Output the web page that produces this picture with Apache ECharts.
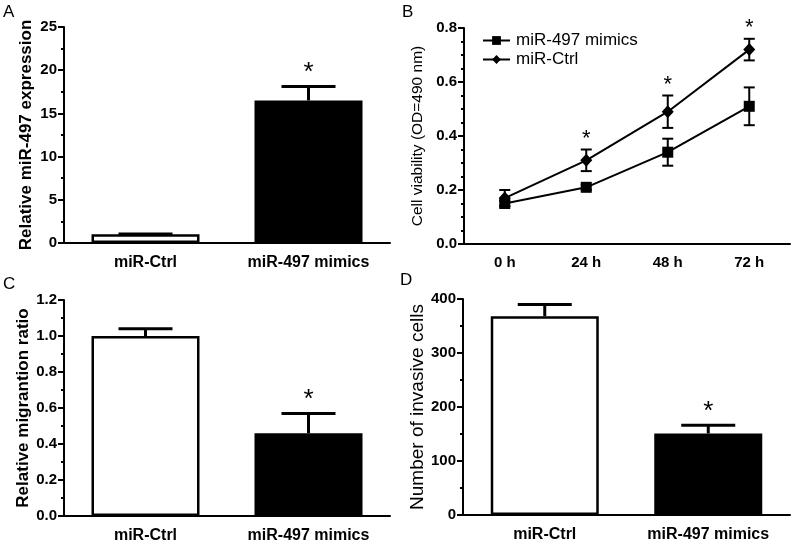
<!DOCTYPE html>
<html>
<head>
<meta charset="utf-8">
<script src="https://cdn.jsdelivr.net/npm/echarts@6/dist/echarts.min.js"></script>
<style>
html,body{margin:0;padding:0;background:#fff;}
#c{width:800px;height:552px;}
</style>
</head>
<body>
<div id="c"></div>
<script>
// ---- data ----
const groupCats = ['miR-Ctrl', 'miR-497 mimics'];
const exprMean = [1.0, 16.5];
const exprErr = [0.05, 1.6];
const exprStar = [0, 1];

const timeCats = ['0 h', '24 h', '48 h', '72 h'];
const viabMimics = [0.15, 0.21, 0.34, 0.51];
const viabMimicsErr = [0.01, 0.01, 0.05, 0.07];
const viabCtrl = [0.17, 0.31, 0.49, 0.72];
const viabCtrlErr = [0.03, 0.04, 0.06, 0.04];
const viabStar = [0, 1, 1, 1];

const migMean = [1.0, 0.46];
const migErr = [0.04, 0.11];
const migStar = [0, 1];

const invMean = [368, 151];
const invErr = [22, 15];
const invStar = [0, 1];

const barFill = ['#ffffff', '#000000'];
const legendNames = ['miR-497 mimics', 'miR-Ctrl'];

// ---- helpers ----
const FF = "'Liberation Sans', Arial, sans-serif";
function errData(mean, err, star) {
  return mean.map((m, i) => [i, m, err[i], star ? star[i] : 0]);
}
function errRender(both, capW, lw, starSize, starGap) {
  return function (params, api) {
    const i = api.value(0), v = api.value(1), e = api.value(2), s = api.value(3);
    const pTop = api.coord([i, v + e]);
    const pMid = api.coord([i, v]);
    const pBot = api.coord([i, v - e]);
    const x = pTop[0];
    const st = { stroke: '#000', lineWidth: lw };
    const ch = [
      { type: 'line', shape: { x1: x, y1: pTop[1], x2: x, y2: both ? pBot[1] : pMid[1] }, style: st },
      { type: 'line', shape: { x1: x - capW / 2, y1: pTop[1], x2: x + capW / 2, y2: pTop[1] }, style: st }
    ];
    if (both) ch.push({ type: 'line', shape: { x1: x - capW / 2, y1: pBot[1], x2: x + capW / 2, y2: pBot[1] }, style: st });
    if (s) ch.push({ type: 'text', x: x, y: pTop[1] - starGap,
      style: { text: '*', fontSize: starSize, fontFamily: FF, fill: '#000', align: 'center', verticalAlign: 'middle' } });
    return { type: 'group', children: ch };
  };
}
function catAxis(gi, cats, fs, margin) {
  return {
    type: 'category', gridIndex: gi, data: cats,
    axisLine: { lineStyle: { color: '#000', width: 2 } },
    axisTick: { alignWithLabel: true, length: 6, lineStyle: { color: '#000', width: 2 } },
    axisLabel: { color: '#000', fontFamily: FF, fontWeight: 'bold', fontSize: fs, margin: margin },
    splitLine: { show: false }
  };
}
function valAxis(gi, min, max, interval, minorSplit, name, nameBold, nameSize, nameGap, dec) {
  return {
    type: 'value', gridIndex: gi, min: min, max: max, interval: interval,
    name: name, nameLocation: 'middle', nameGap: nameGap,
    nameTextStyle: { color: '#000', fontFamily: FF, fontWeight: nameBold ? 'bold' : 'normal', fontSize: nameSize },
    axisLine: { show: true, lineStyle: { color: '#000', width: 2 } },
    axisTick: { show: true, length: 6, lineStyle: { color: '#000', width: 2 } },
    minorTick: { show: true, splitNumber: minorSplit, length: 3, lineStyle: { color: '#000', width: 2 } },
    axisLabel: { color: '#000', fontFamily: FF, fontWeight: 'bold', fontSize: 15, margin: 7,
      formatter: v => dec ? v.toFixed(dec) : String(v) },
    splitLine: { show: false }
  };
}
function barSeries(gi, mean) {
  return {
    type: 'bar', xAxisIndex: gi, yAxisIndex: gi, barWidth: 108, z: 2,
    data: mean.map((m, i) => ({ value: m, itemStyle: { color: barFill[i] } })),
    itemStyle: { borderColor: '#000', borderWidth: 2.5 }
  };
}
function errSeries(gi, mean, err, star, both, capW, lw, starSize, starGap, z) {
  return {
    type: 'custom', xAxisIndex: gi, yAxisIndex: gi, z: z,
    renderItem: errRender(both, capW, lw, starSize, starGap),
    encode: { x: 0, y: 1 },
    data: errData(mean, err, star)
  };
}

const chart = echarts.init(document.getElementById('c'), null, { renderer: 'canvas' });
const option = {
  backgroundColor: '#fff',
  animation: false,
  grid: [
    { left: 64, top: 27, width: 326, height: 216 },
    { left: 464, top: 28, width: 326, height: 216 },
    { left: 64, top: 300, width: 326, height: 216 },
    { left: 463, top: 299, width: 327, height: 216 }
  ],
  xAxis: [
    catAxis(0, groupCats, 16, 12),
    catAxis(1, timeCats, 15, 11),
    catAxis(2, groupCats, 16, 12),
    catAxis(3, groupCats, 16, 12)
  ],
  yAxis: [
    valAxis(0, 0, 25, 5, 2, 'Relative miR-497 expression', true, 17, 29, 0),
    valAxis(1, 0, 0.8, 0.2, 4, 'Cell viability (OD=490 nm)', false, 15.5, 38, 1),
    valAxis(2, 0, 1.2, 0.2, 2, 'Relative migrantion ratio', true, 17, 29, 1),
    valAxis(3, 0, 400, 100, 2, 'Number of invasive cells', false, 19, 35, 0)
  ],
  legend: {
    data: legendNames, orient: 'vertical', left: 477, top: 27,
    itemWidth: 27, itemHeight: 11, itemGap: 2,
    textStyle: { color: '#000', fontFamily: FF, fontSize: 17, padding: [0, 0, 0, 1] }
  },
  graphic: [
    { type: 'text', left: 3, top: 4, style: { text: 'A', fontFamily: FF, fontSize: 17, fill: '#000' } },
    { type: 'text', left: 402, top: 4, style: { text: 'B', fontFamily: FF, fontSize: 17, fill: '#000' } },
    { type: 'text', left: 3, top: 276, style: { text: 'C', fontFamily: FF, fontSize: 17, fill: '#000' } },
    { type: 'text', left: 400, top: 272, style: { text: 'D', fontFamily: FF, fontSize: 17, fill: '#000' } }
  ],
  series: [
    barSeries(0, exprMean),
    errSeries(0, exprMean, exprErr, exprStar, false, 54, 3, 26, 14, 5),
    errSeries(1, viabMimics, viabMimicsErr, null, true, 11, 2, 22, 11, 1),
    errSeries(1, viabCtrl, viabCtrlErr, viabStar, true, 11, 2, 22, 11, 1),
    {
      type: 'line', name: 'miR-497 mimics', xAxisIndex: 1, yAxisIndex: 1, z: 3,
      data: viabMimics, symbol: 'rect', symbolSize: 11,
      lineStyle: { color: '#000', width: 2 }, itemStyle: { color: '#000' }
    },
    {
      type: 'line', name: 'miR-Ctrl', xAxisIndex: 1, yAxisIndex: 1, z: 3,
      data: viabCtrl, symbol: 'diamond', symbolSize: [12, 13],
      lineStyle: { color: '#000', width: 2 }, itemStyle: { color: '#000' }
    },
    barSeries(2, migMean),
    errSeries(2, migMean, migErr, migStar, false, 54, 3, 26, 14, 5),
    barSeries(3, invMean),
    errSeries(3, invMean, invErr, invStar, false, 54, 3, 26, 14, 5)
  ]
};
chart.setOption(option);
</script>
</body>
</html>
